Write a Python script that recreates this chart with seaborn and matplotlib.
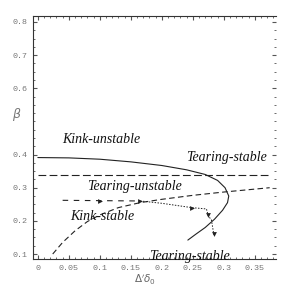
import numpy as np
import pandas as pd
import seaborn as sns
import matplotlib
matplotlib.use("Agg")
import matplotlib.pyplot as plt
from matplotlib.ticker import MultipleLocator

# kink stability boundary (nose-shaped, solid)
kink_x = [0.0, 0.05, 0.10, 0.15, 0.20, 0.24, 0.27, 0.29, 0.302, 0.308, 0.306, 0.298, 0.285, 0.27, 0.255, 0.242]
kink_y = [0.391, 0.390, 0.386, 0.378, 0.367, 0.354, 0.340, 0.322, 0.300, 0.275, 0.255, 0.232, 0.205, 0.180, 0.160, 0.142]

# tearing-stable threshold (horizontal dashed)
tear_x = [0.0, 0.374]
tear_y = [0.339, 0.339]

# kink-stable boundary (dashed, rising)
ks_x = [0.024, 0.04, 0.06, 0.08, 0.10, 0.13, 0.165, 0.20, 0.25, 0.30, 0.374]
ks_y = [0.100, 0.135, 0.170, 0.198, 0.218, 0.240, 0.255, 0.265, 0.277, 0.287, 0.300]

# trajectory
traj1_x = [0.04, 0.165]
traj1_y = [0.262, 0.260]
traj2_x = [0.165, 0.20, 0.248, 0.272, 0.275, 0.280, 0.284]
traj2_y = [0.260, 0.253, 0.240, 0.236, 0.215, 0.203, 0.158]

arr_r_x = [0.10, 0.165, 0.248]
arr_r_y = [0.261, 0.259, 0.240]
arr_d_x = [0.275, 0.284]
arr_d_y = [0.218, 0.160]

labels = ["Kink-unstable", "Tearing-stable", "Tearing-unstable", "Kink-stable", "Tearing-stable"]
label_x = [0.103, 0.305, 0.156, 0.104, 0.245]
label_y = [0.445, 0.392, 0.303, 0.212, 0.093]

sns.set_style("ticks")
fig = plt.figure(figsize=(2.91, 2.91), dpi=100)
ax = fig.add_axes([0.113, 0.11, 0.835, 0.835])

lc = "#222222"
sns.lineplot(x=kink_x, y=kink_y, sort=False, estimator=None, color=lc, lw=0.8, ax=ax)
sns.lineplot(x=tear_x, y=tear_y, sort=False, estimator=None, color=lc, lw=0.8, ax=ax).lines[-1].set_dashes((7, 3))
sns.lineplot(x=ks_x, y=ks_y, sort=False, estimator=None, color=lc, lw=0.8, ax=ax).lines[-1].set_dashes((5, 3))
sns.lineplot(x=traj1_x, y=traj1_y, sort=False, estimator=None, color=lc, lw=0.8, ax=ax).lines[-1].set_dashes((5, 5))
sns.lineplot(x=traj2_x, y=traj2_y, sort=False, estimator=None, color=lc, lw=0.7, ax=ax).lines[-1].set_dashes((1.5, 1.5))
ax.scatter(arr_r_x, arr_r_y, marker=">", s=12, color=lc, linewidths=0, zorder=5)
ax.scatter(arr_d_x, arr_d_y, marker="v", s=12, color=lc, linewidths=0, zorder=5)

for t, x, y in zip(labels, label_x, label_y):
    ax.text(x, y, t, ha="center", va="center", fontsize=10, style="italic",
            family="Liberation Serif", color="#111111")

ax.set_xlim(-0.008, 0.384)
ax.set_ylim(0.085, 0.818)
ax.set_xticks([0, 0.05, 0.1, 0.15, 0.2, 0.25, 0.3, 0.35])
ax.set_xticklabels(["0", "0.05", "0.1", "0.15", "0.2", "0.25", "0.3", "0.35"])
ax.set_yticks([0.1, 0.2, 0.3, 0.4, 0.6, 0.7, 0.8])
ax.set_yticklabels(["0.1", "0.2", "0.3", "0.4", "0.6", "0.7", "0.8"])
ax.xaxis.set_minor_locator(MultipleLocator(0.01))
ax.yaxis.set_minor_locator(MultipleLocator(0.025))
ax.tick_params(which="both", direction="in", colors="#555555", labelsize=6,
               top=True, right=True, pad=4)
ax.tick_params(which="major", length=3)
ax.tick_params(which="minor", length=1.5)
for lab in ax.get_xticklabels() + ax.get_yticklabels():
    lab.set_family("Liberation Mono")
    lab.set_color("#777777")
for s in ["left", "bottom", "top"]:
    ax.spines[s].set_color("#333333")
    ax.spines[s].set_linewidth(0.8)
ax.spines["right"].set_visible(False)

ax.set_xlabel("")
ax.set_ylabel("")
ax.text(-0.066, 0.593, r"$\beta$", transform=ax.transAxes, fontsize=9, color="#777777",
        ha="center", va="center")
ax.text(0.46, -0.085, r"$\Delta'\delta_0$", transform=ax.transAxes, fontsize=7.5,
        color="#666666", ha="center", va="center", clip_on=False)

fig.savefig("out.png", dpi=100)
